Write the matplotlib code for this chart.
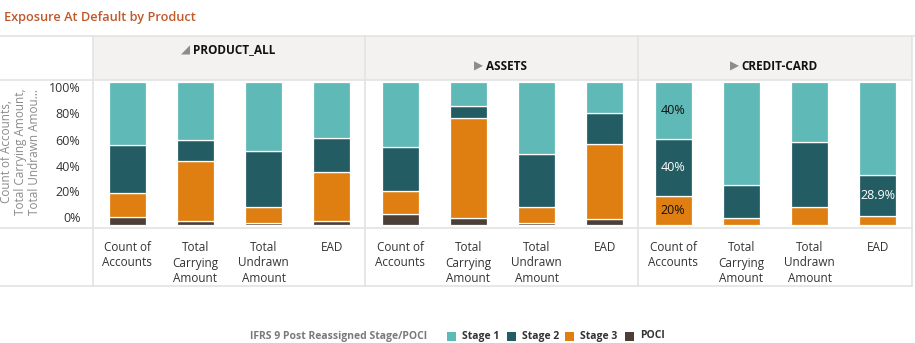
import matplotlib
matplotlib.use("Agg")
import matplotlib.pyplot as plt
from matplotlib.patches import Rectangle
from matplotlib.lines import Line2D

# ---------------- data ----------------
products = ["PRODUCT_ALL", "ASSETS", "CREDIT-CARD"]
measures = ["Count of\nAccounts", "Total\nCarrying\nAmount", "Total\nUndrawn\nAmount", "EAD"]
stages = ["Stage 1", "Stage 2", "Stage 3", "POCI"]

# shares (%) per bar, order: product x measure
poci   = [5.8, 3.0, 1.2, 2.6,   7.9, 5.1, 1.6, 4.2,   0.0, 0.0, 0.0, 0.0]
stage3 = [16.6, 41.7, 11.4, 34.5,  15.7, 69.7, 10.8, 52.4,  20.0, 4.7, 12.8, 6.1]
stage2 = [33.6, 14.9, 39.2, 24.0,  30.8, 8.6, 37.5, 21.5,  40.0, 23.5, 45.0, 28.9]
stage1 = [44.0, 40.4, 48.2, 38.9,  45.6, 16.6, 50.1, 21.9,  40.0, 71.8, 42.2, 65.0]

ytick_labels = ["0%", "20%", "40%", "60%", "80%", "100%"]

# data labels shown: (bar index, stage, text)
shown_labels = [(8, "Stage 1", "40%"), (8, "Stage 2", "40%"), (8, "Stage 3", "20%"), (11, "Stage 2", "28.9%")]

colors = {"Stage 1": "#5fb9b6", "Stage 2": "#245c64", "Stage 3": "#df7f12", "POCI": "#4b3f37"}
label_colors = {"Stage 1": "#111111", "Stage 2": "white", "Stage 3": "#111111", "POCI": "white"}

# ---------------- layout ----------------
W, H = 915, 343
plt.rcParams['font.family'] = ['Open Sans', 'DejaVu Sans']
fig = plt.figure(figsize=(W / 100, H / 100), dpi=100)
fig.patch.set_facecolor("white")

def fx(x):
    return x / W

def fy(y):
    return 1 - y / H

def rect_px(x0, y0, x1, y1):
    return [fx(x0), fy(y1), (x1 - x0) / W, (y1 - y0) / H]

line_col = "#e3e3e3"

# header band
fig.patches.append(Rectangle((fx(93), fy(80)), (912 - 93) / W, 44 / H,
                             transform=fig.transFigure, facecolor="#f3f2f0",
                             edgecolor="none", zorder=0))

def hline(y, x0, x1):
    fig.lines.append(Line2D([fx(x0), fx(x1)], [fy(y), fy(y)], transform=fig.transFigure,
                            color=line_col, lw=1.2, zorder=1))

def vline(x, y0, y1):
    fig.lines.append(Line2D([fx(x), fx(x)], [fy(y0), fy(y1)], transform=fig.transFigure,
                            color=line_col, lw=1.2, zorder=1))

hline(36, 0, 915)
hline(80, 0, 912)
hline(228, 0, 912)
hline(286, 0, 912)
for xv in (93, 365, 638, 912):
    vline(xv, 36, 286)

# title
fig.text(fx(4), fy(17), "Exposure At Default by Product", fontsize=9.2, fontweight="semibold",
         color="#c0582a", ha="left", va="center")

# main axes
ax = fig.add_axes(rect_px(93, 80, 912, 228))
ax.set_facecolor("none")
n = len(stage1)
xs = list(range(n))
bw = 0.545
bottom = [0.0] * n
for name, vals in [("POCI", poci), ("Stage 3", stage3), ("Stage 2", stage2), ("Stage 1", stage1)]:
    v = [x / 100 for x in vals]
    ax.bar(xs, v, width=bw, bottom=bottom, color=colors[name], edgecolor="white",
           linewidth=0.9, zorder=2)
    for (bi, st, txt) in shown_labels:
        if st == name:
            ax.text(xs[bi], bottom[bi] + v[bi] / 2, txt, ha="center", va="center",
                    fontsize=9, color=label_colors[name], zorder=3)
    bottom = [b + x for b, x in zip(bottom, v)]

ax.set_xlim(-0.5, n - 0.5)
ax.set_ylim(-3 / 143, 1 + 2 / 143)
for s in ax.spines.values():
    s.set_visible(False)
ax.set_xticks([])
# tick labels positioned as in the reference rendering
tick_px = [217, 191, 166, 140, 113, 87]
ax.set_yticks([(225 - p) / 143 for p in tick_px])
ax.set_yticklabels(ytick_labels, fontsize=9, color="#333333")
ax.tick_params(axis="y", length=0, pad=9)

# y-axis title
fig.text(fx(21), fy(152), "Count of Accounts,\nTotal Carrying Amount,\nTotal Undrawn Amou...",
         rotation=90, ha="center", va="center", fontsize=8.5, color="#8a8a8a",
         linespacing=1.1, multialignment="center")

# category labels
for i in range(n):
    xd = ax.transData.transform((xs[i], 0))[0]
    xfig = fig.transFigure.inverted().transform((xd, 0))[0]
    fig.text(xfig, fy(241), measures[i % 4], ha="center", va="top", fontsize=8.5,
             color="#333333", linespacing=1.25)

# panel headers
header_y = [50, 66, 66]
header_tri = ["\u25e2", "\u25b6", "\u25b6"]
panel_x = [(93, 365), (365, 638), (638, 912)]
for (x0, x1), name, yy, tri in zip(panel_x, products, header_y, header_tri):
    c = (x0 + x1) / 2 + 5
    t = fig.text(fx(c), fy(yy), name, ha="center", va="center", fontsize=8.5,
                 fontweight="bold", color="#111111")
    fig.canvas.draw()
    bb = t.get_window_extent()
    fig.text(bb.x0 / fig.bbox.width - fx(3), fy(yy), tri, ha="right", va="center",
             fontsize=8.5, color="#8c8c8c", family="DejaVu Sans")

# legend
ly = 336
fig.text(fx(250), fy(ly), "IFRS 9 Post Reassigned Stage/POCI", ha="left", va="center",
         fontsize=7.5, fontweight="bold", color="#7a7a7a")
leg_x = [447, 507, 565, 625]
for st, lx in zip(stages, leg_x):
    fig.patches.append(Rectangle((fx(lx), fy(ly + 4.5)), 9 / W, 9 / H, transform=fig.transFigure,
                                 facecolor=colors[st], edgecolor="none"))
    fig.text(fx(lx + 15), fy(ly), st, ha="left", va="center", fontsize=7.5,
             fontweight="bold", color="#333333")

fig.savefig("out.png", dpi=100, facecolor="white")
